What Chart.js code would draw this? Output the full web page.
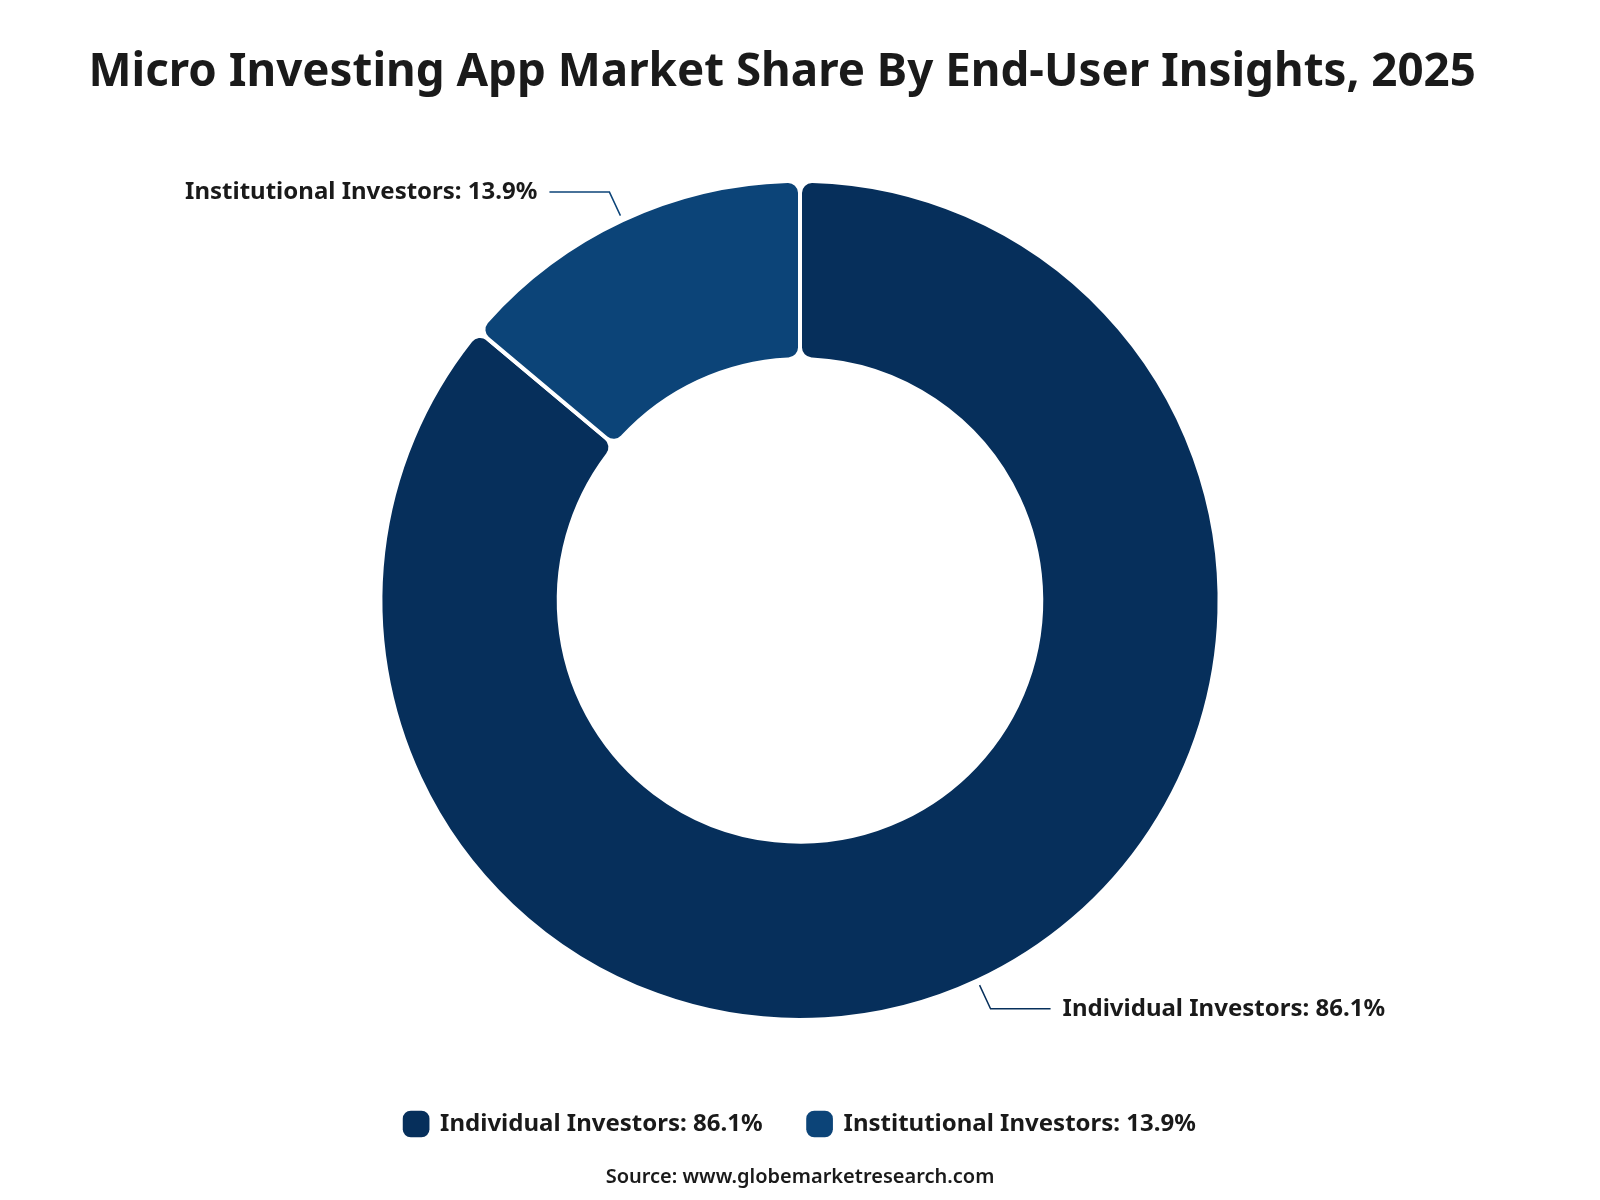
<!DOCTYPE html>
<html>
<head>
<meta charset="utf-8">
<script src="https://cdn.jsdelivr.net/npm/chart.js@4.4.1/dist/chart.umd.min.js"></script>
<style>
  html, body { margin: 0; padding: 0; background: #fff; }
  #wrap { width: 1600px; height: 1200px; }
</style>
</head>
<body>
<div id="wrap"><canvas id="myChart" width="1600" height="1200"></canvas></div>
<script>
// data
let segments = ['Individual Investors', 'Institutional Investors'];
let shares = [86.1, 13.9];
let colors = ['#062f5b', '#0c4478'];

// leader line labels drawn next to each slice
let calloutPlugin = {
  id: 'callouts',
  afterDatasetsDraw(chart) {
    let ctx = chart.ctx;
    let meta = chart.getDatasetMeta(0);
    meta.data.forEach((arc, i) => {
      let mid = (arc.startAngle + arc.endAngle) / 2;
      let r = arc.outerRadius;
      let cos = Math.cos(mid), sin = Math.sin(mid);
      let x0 = arc.x + cos * (r + 5), y0 = arc.y + sin * (r + 5);
      let x1 = arc.x + cos * (r + 31), y1 = arc.y + sin * (r + 31);
      let right = cos >= 0;
      let x2 = x1 + (right ? 60 : -60);
      ctx.save();
      ctx.strokeStyle = colors[i];
      ctx.lineWidth = 1.5;
      ctx.beginPath();
      ctx.moveTo(x0, y0);
      ctx.lineTo(x1, y1);
      ctx.lineTo(x2, y1);
      ctx.stroke();
      ctx.font = 'bold 24px "Noto Sans"';
      ctx.fillStyle = '#1a1a1a';
      ctx.textBaseline = 'middle';
      ctx.textAlign = right ? 'left' : 'right';
      ctx.fillText(segments[i] + ': ' + shares[i] + '%', x2 + (right ? 12 : -12), y1);
      ctx.restore();
    });
  }
};

let ctx = document.getElementById('myChart');
let myChart = new Chart(ctx, {
  type: 'doughnut',
  data: {
    labels: segments,
    datasets: [{
      data: shares,
      backgroundColor: colors,
      borderColor: '#ffffff',
      borderWidth: 4,
      borderRadius: 12,
      hoverOffset: 0
    }]
  },
  options: {
    responsive: false,
    animation: false,
    cutout: '57.5%',
    layout: { padding: 0 },
    plugins: {
      title: {
        display: true,
        // trailing spaces nudge the title a bit left of centre, like the original
        text: 'Micro Investing App Market Share By End-User Insights, 2025   ',
        color: '#1a1a1a',
        font: { family: 'Noto Sans', size: 45.7, weight: 'bold' },
        padding: { top: 46, bottom: 78 }
      },
      legend: {
        position: 'bottom',
        // blank legend title only adds room between the ring and the legend row
        title: {
          display: true,
          text: ' ',
          font: { size: 10 },
          padding: { top: 33, bottom: 0 }
        },
        labels: {
          usePointStyle: true,
          pointStyle: 'rectRounded',
          boxHeight: 22,
          padding: 45,
          color: '#1a1a1a',
          font: { family: 'Noto Sans', size: 24, weight: 'bold' },
          generateLabels(chart) {
            return segments.map((s, i) => ({
              text: s + ': ' + shares[i] + '%',
              fillStyle: colors[i],
              strokeStyle: colors[i],
              fontColor: '#1a1a1a',
              hidden: false,
              lineWidth: 0,
              pointStyle: 'rectRounded',
              index: i
            }));
          }
        }
      },
      subtitle: {
        display: true,
        position: 'bottom',
        text: 'Source: www.globemarketresearch.com',
        color: '#1a1a1a',
        font: { family: 'Noto Sans', size: 20, weight: '600' },
        padding: { top: 19, bottom: 11 }
      },
      tooltip: { enabled: false }
    }
  },
  plugins: [calloutPlugin]
});
</script>
</body>
</html>
